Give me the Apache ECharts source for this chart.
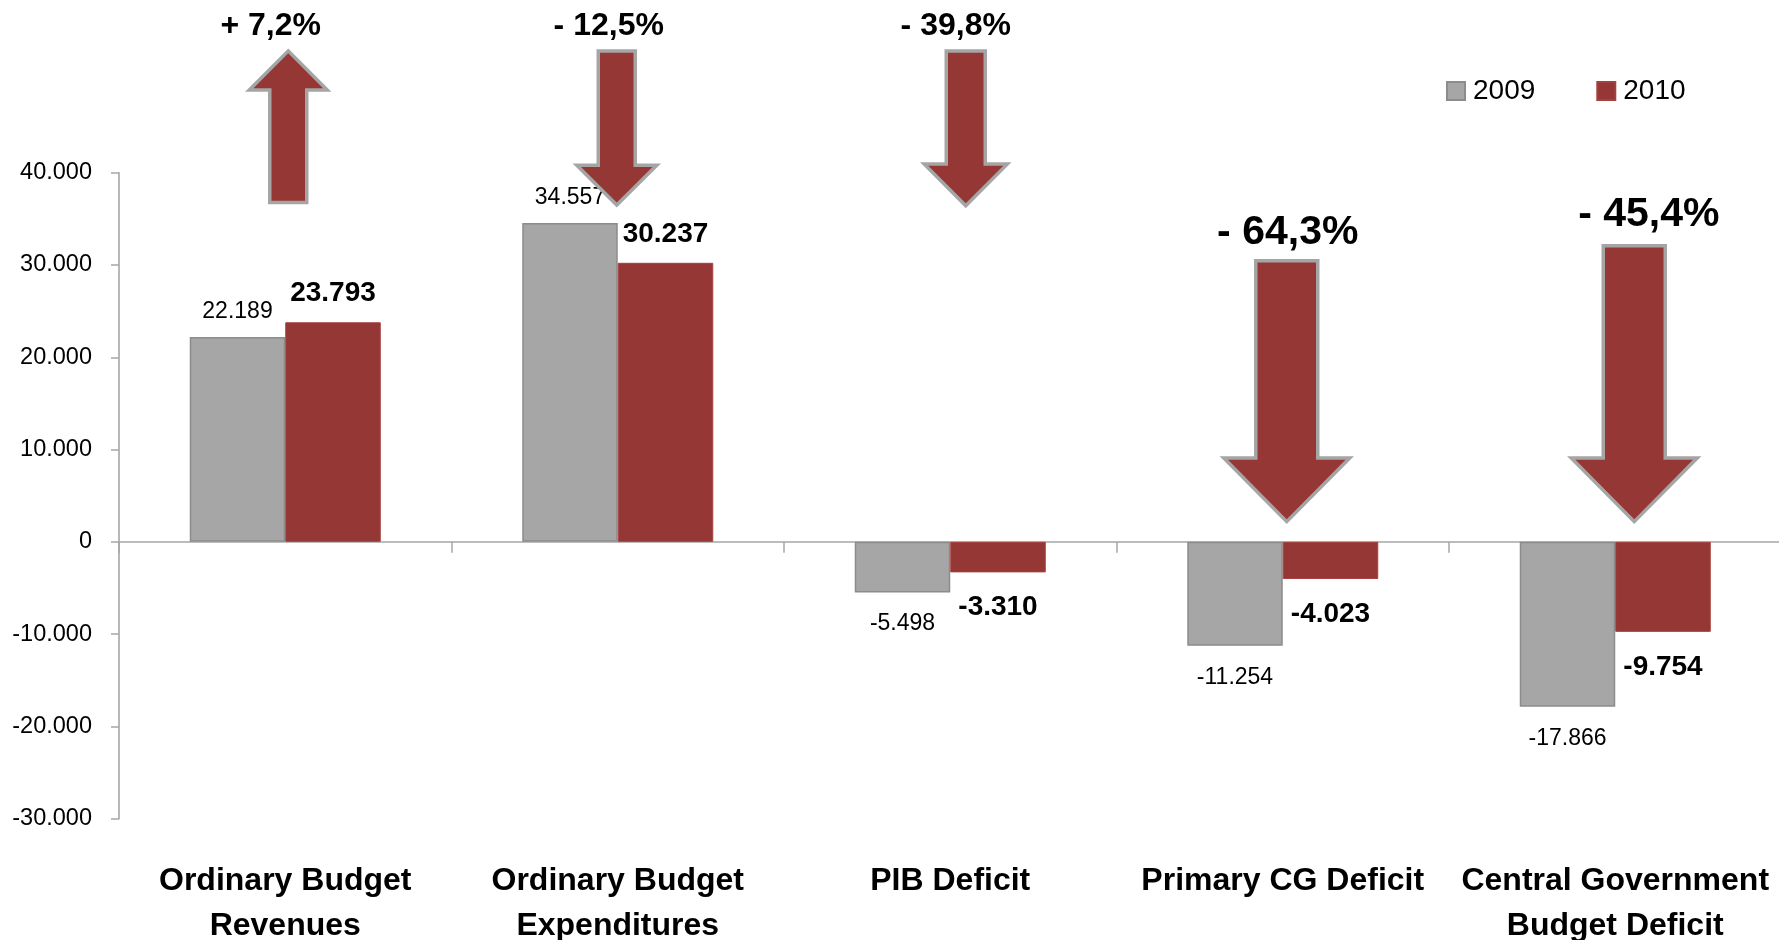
<!DOCTYPE html>
<html><head><meta charset="utf-8">
<script src="https://cdn.jsdelivr.net/npm/echarts@6/dist/echarts.min.js"></script>
<style>html,body{margin:0;padding:0;background:#fff}#c{width:1779px;height:940px}</style>
</head><body><div id="c"></div>
<script>
// ---- data ----
const categories = ['Ordinary Budget\nRevenues', 'Ordinary Budget\nExpenditures', 'PIB Deficit', 'Primary CG Deficit', 'Central Government\nBudget Deficit'];
const seriesNames = ['2009', '2010'];
const values2009 = [22189, 34557, -5498, -11254, -17866];
const values2010 = [23793, 30237, -3310, -4023, -9754];
const changeLabels = ['+ 7,2%', '- 12,5%', '- 39,8%', '- 64,3%', '- 45,4%'];
const yMin = -30000, yMax = 40000, yInterval = 10000;

// ---- styling / annotation geometry (not data) ----
const FONT = '"Liberation Sans", Arial, sans-serif';
const GRAY = '#a6a6a6', RED = '#953735';
const arrowSpecs = [
  {dir:'up',   dx:3,    top:53200, headBase:48950, bottom:36780, shaftHalf:18.5, headHalf:39, labelDx:-17.5, labelGap:24.5, labelSize:32},
  {dir:'down', dx:-1,   top:53200, headBase:40820, bottom:36490, shaftHalf:18.5, headHalf:40, labelDx:-8,    labelGap:24.5, labelSize:32},
  {dir:'down', dx:15.5, top:53200, headBase:40930, bottom:36420, shaftHalf:19.5, headHalf:41.5, labelDx:-10,  labelGap:24.5, labelSize:32},
  {dir:'down', dx:4,    top:30460, headBase:9090,  bottom:2190,  shaftHalf:31,   headHalf:63, labelDx:1,      labelGap:28.5, labelSize:41},
  {dir:'down', dx:19,   top:32080, headBase:9090,  bottom:2190,  shaftHalf:31,   headHalf:63, labelDx:14.6,   labelGap:31, labelSize:41}
];

function fmt(v) {
  const neg = v < 0; let s = String(Math.abs(Math.round(v)));
  s = s.replace(/\B(?=(\d{3})+(?!\d))/g, '.');
  return (neg ? '-' : '') + s;
}

function barData(vals, isBold) {
  return vals.map(v => ({
    value: v,
    label: {
      position: v >= 0 ? 'top' : 'bottom',
      distance: v >= 0 ? (isBold ? 14.5 : 14) : (isBold ? 21 : 20)
    }
  }));
}

const chart = echarts.init(document.getElementById('c'), null, {renderer: 'canvas'});
chart.setOption({
  animation: false,
  backgroundColor: '#fff',
  textStyle: {fontFamily: FONT},
  grid: {left: 119, top: 172.7, width: 1662.5, height: 646, containLabel: false, outerBoundsMode: 'none'},
  legend: {
    data: seriesNames, left: 1446, top: 77, padding: 0, icon: 'rect', itemWidth: 18, itemHeight: 18, itemGap: 61,
    textStyle: {fontSize: 28, color: '#000', fontFamily: FONT, lineHeight: 28, padding: [0, 0, 0, 3]}
  },
  xAxis: [
    {type: 'category', data: categories, position: 'bottom',
     axisLine: {onZero: true, lineStyle: {color: '#a6a6a6', width: 1.6}},
     axisTick: {show: true, length: 11, lineStyle: {color: '#a6a6a6', width: 1.5}},
     axisLabel: {show: false}, splitLine: {show: false}},
    {type: 'category', data: categories, position: 'bottom',
     axisLine: {show: false, onZero: false}, axisTick: {show: false}, splitLine: {show: false},
     axisLabel: {interval: 0, margin: 39.5, fontSize: 32, fontWeight: 'bold', lineHeight: 45, color: '#000', fontFamily: FONT}}
  ],
  yAxis: {
    type: 'value', min: yMin, max: yMax, interval: yInterval,
    axisLine: {show: true, lineStyle: {color: '#a6a6a6', width: 1.6}},
    axisTick: {show: true, length: 8, lineStyle: {color: '#a6a6a6', width: 1.5}},
    axisLabel: {margin: 27, fontSize: 23.5, color: '#000', fontFamily: FONT, formatter: fmt, padding: [3, 0, 0, 0]},
    splitLine: {show: false}
  },
  series: [
    {name: seriesNames[0], type: 'bar', xAxisIndex: 0, barWidth: 95.5, barGap: '0%',
     itemStyle: {color: GRAY, borderColor: '#8c8c8c', borderWidth: 1.5},
     label: {show: true, formatter: p => fmt(p.value), fontSize: 23, lineHeight: 23, color: '#000', fontFamily: FONT},
     data: barData(values2009, false)},
    {name: seriesNames[1], type: 'bar', xAxisIndex: 0, barWidth: 95.5, barGap: '0%',
     itemStyle: {color: RED, borderColor: '#a4403e', borderWidth: 1},
     label: {show: true, formatter: p => fmt(p.value), fontSize: 28, lineHeight: 28, fontWeight: 'bold', color: '#000', fontFamily: FONT},
     data: barData(values2010, true)}
  ]
});

// ---- arrows and percentage labels anchored to the axes ----
const graphics = [];
arrowSpecs.forEach((a, i) => {
  const cx = chart.convertToPixel({xAxisIndex: 0}, i) + a.dx;
  const yTop = chart.convertToPixel({yAxisIndex: 0}, a.top);
  const yHB = chart.convertToPixel({yAxisIndex: 0}, a.headBase);
  const yBot = chart.convertToPixel({yAxisIndex: 0}, a.bottom);
  const sh = a.shaftHalf, hh = a.headHalf;
  let pts;
  if (a.dir === 'down') {
    pts = [[cx - sh, yTop], [cx + sh, yTop], [cx + sh, yHB], [cx + hh, yHB], [cx, yBot], [cx - hh, yHB], [cx - sh, yHB]];
  } else {
    pts = [[cx, yTop], [cx + hh, yHB], [cx + sh, yHB], [cx + sh, yBot], [cx - sh, yBot], [cx - sh, yHB], [cx - hh, yHB]];
  }
  graphics.push({type: 'polygon', z: 100, shape: {points: pts},
    style: {fill: RED, stroke: '#a5a5a5', lineWidth: 3.5, lineJoin: 'miter'}});
  graphics.push({type: 'text', z: 100, x: cx + a.labelDx, y: yTop - a.labelGap,
    style: {text: changeLabels[i], fontSize: a.labelSize, fontWeight: 'bold', fontFamily: FONT, fill: '#000',
            align: 'center', verticalAlign: 'middle', textAlign: 'center', textVerticalAlign: 'middle'}});
});
chart.setOption({graphic: graphics});
</script>
</body></html>
